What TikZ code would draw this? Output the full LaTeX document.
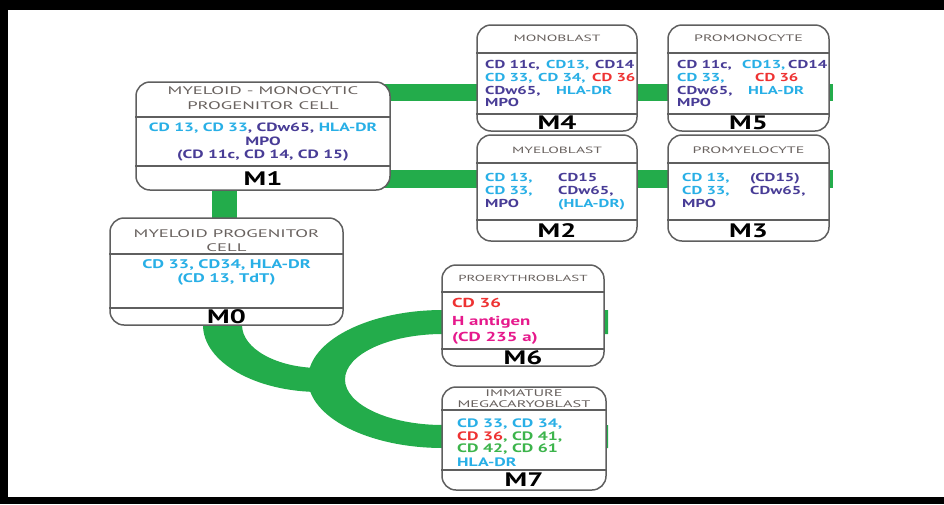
\documentclass[tikz,border=0pt]{standalone}
\usepackage{fontspec}
\setmainfont{PT Sans}[FakeStretch=1.45]
\newfontfamily\ttlfont{PT Sans}[FakeStretch=1.7]
\definecolor{grn}{RGB}{35,172,75}
\definecolor{cyT}{RGB}{40,175,230}
\definecolor{puT}{RGB}{72,60,150}
\definecolor{rdT}{RGB}{238,50,50}
\definecolor{mgT}{RGB}{230,25,140}
\definecolor{gnT}{RGB}{60,180,75}
\definecolor{ttl}{RGB}{105,98,95}
\definecolor{brd}{RGB}{95,95,95}
\newcommand{\Cy}[1]{\textcolor{cyT}{#1}}
\newcommand{\Pu}[1]{\textcolor{puT}{#1}}
\newcommand{\Rd}[1]{\textcolor{rdT}{#1}}
\newcommand{\Mg}[1]{\textcolor{mgT}{#1}}
\newcommand{\Gn}[1]{\textcolor{gnT}{#1}}
\newcommand{\Wb}[2]{\makebox[#1pt][l]{#2}}
\newcommand{\Fs}[1]{\fontsize{#1}{#1}\selectfont}
\begin{document}
\begin{tikzpicture}[x=1pt,y=-1pt,
 cellbox/.style={draw=brd, line width=1.5pt, rounded corners=14pt, fill=white, inner sep=0},
 divider/.style={draw=brd, line width=1.3pt},
 band/.style={draw=grn, line width=17pt},
 ttlbig/.style={text=ttl, font=\ttlfont\fontsize{11}{15}\selectfont, align=center, inner sep=0},
 ttlsm/.style={text=ttl, align=center, inner sep=0},
 bodyt/.style={font=\bfseries\Fs{11.5}, anchor=base west, inner sep=0},
 bodyc/.style={font=\bfseries\Fs{12}, anchor=base, inner sep=0},
 lbl/.style={font=\bfseries\Fs{19.5}, inner sep=0}]
\useasboundingbox (0,0) rectangle (944,504);
% frame
\fill[black] (0,0) rectangle (944,10);
\fill[black] (0,0) rectangle (8,504);
\fill[black] (0,497) rectangle (944,504);
% green bands
\coordinate (ua) at (380,92.5); \coordinate (ub) at (833,92.5);
\coordinate (la) at (380,179); \coordinate (lb) at (833,179);
\coordinate (va) at (224.5,180); \coordinate (vb) at (224.5,230);
\draw[band] (ua) -- (ub);
\draw[band, line width=18pt] (la) -- (lb);
\draw[band, line width=25pt] (va) -- (vb);
\fill[grn] (608,310) -- (443,310) arc[start angle=270, end angle=90, x radius=135, y radius=69]
  -- (608,448) -- (608,425) -- (443,425) arc[start angle=90, end angle=270, x radius=98, y radius=45.5]
  -- (443,334) -- (608,334) -- cycle;
\fill[grn] (203,318) -- (203,325) arc[start angle=180, end angle=90, x radius=117, y radius=67]
  -- (335,392) -- (335,368) -- (320,368) arc[start angle=90, end angle=180, x radius=78, y radius=43]
  -- (242,318) -- cycle;
% boxes
\node[cellbox, minimum width=254pt, minimum height=108pt] (b1) at (263,136) {};
\node[cellbox, minimum width=160pt, minimum height=106pt] (b4) at (557,78) {};
\node[cellbox, minimum width=161pt, minimum height=106pt] (b5) at (748.5,78) {};
\node[cellbox, minimum width=160pt, minimum height=106pt] (b2) at (557,188) {};
\node[cellbox, minimum width=161pt, minimum height=106pt] (b3) at (748.5,188) {};
\node[cellbox, minimum width=233pt, minimum height=107pt] (b0) at (226.5,271.5) {};
\node[cellbox, minimum width=162pt, minimum height=101pt] (b6) at (523,315.5) {};
\node[cellbox, minimum width=164pt, minimum height=103pt] (b7) at (524,438.5) {};
% dividers
\foreach \b/\ya/\yb in {b1/117/166, b4/53/114, b5/53/114, b2/163/220, b3/163/220, b0/254/308, b6/292/349, b7/410/470}{
  \draw[divider] (\b.west |- 0,\ya) -- (\b.east |- 0,\ya);
  \draw[divider] (\b.west |- 0,\yb) -- (\b.east |- 0,\yb);
}
% titles
\node[ttlbig] (t1) at (263,98) {MYELOID - MONOCYTIC\\PROGENITOR CELL};
\node[ttlbig, font=\ttlfont\fontsize{11}{13.5}\selectfont] (t0) at (226.5,240.5) {MYELOID PROGENITOR\\CELL};
\node[ttlsm, font=\ttlfont\Fs{9.1}] (t4) at (557,38) {MONOBLAST};
\node[ttlsm, font=\ttlfont\Fs{9.4}] (t5) at (748.5,38) {PROMONOCYTE};
\node[ttlsm, font=\ttlfont\Fs{9.1}] (t2) at (557,150) {MYELOBLAST};
\node[ttlsm, font=\ttlfont\Fs{9.4}] (t3) at (748.5,150) {PROMYELOCYTE};
\node[ttlsm, font=\ttlfont\Fs{8.8}] (t6) at (523,278) {PROERYTHROBLAST};
\node[ttlsm, font=\ttlfont\fontsize{9.6}{10.8}\selectfont] (t7) at (524,398.5) {IMMATURE\\MEGACARYOBLAST};
% M1 body
\node[bodyc] (c1a) at (263,131) {\Cy{CD 13, CD 33}\Pu{, CDw65, }\Cy{HLA-DR}};
\node[bodyc] (c1b) at (263,145) {\Pu{MPO}};
\node[bodyc] (c1c) at (263,158) {\Pu{(CD 11c, CD 14, CD 15)}};
% M4 body
\node[bodyt] (c4a) at (485,68) {\Wb{61}{\Pu{CD 11c,}}\Wb{49}{\Cy{CD13,}}\Pu{CD14}};
\node[bodyt] (c4b) at (485,81) {\Wb{53}{\Cy{CD 33,}}\Wb{54}{\Cy{CD 34,}}\Rd{CD 36}};
\node[bodyt] (c4c) at (485,94) {\Wb{71}{\Pu{CDw65,}}\Cy{HLA-DR}};
\node[bodyt] (c4d) at (485,106) {\Pu{MPO}};
% M5 body
\node[bodyt] (c5a) at (677,68) {\Wb{65}{\Pu{CD 11c,}}\Wb{46}{\Cy{CD13,}}\Pu{CD14}};
\node[bodyt] (c5b) at (677,81) {\Wb{78}{\Cy{CD 33,}}\Rd{CD 36}};
\node[bodyt] (c5c) at (677,94) {\Wb{71}{\Pu{CDw65,}}\Cy{HLA-DR}};
\node[bodyt] (c5d) at (677,106) {\Pu{MPO}};
% M2 body
\node[bodyt] (c2a) at (485,181) {\Wb{73}{\Cy{CD 13,}}\Pu{CD15}};
\node[bodyt] (c2b) at (485,194) {\Wb{73}{\Cy{CD 33,}}\Pu{CDw65,}};
\node[bodyt] (c2c) at (485,207) {\Wb{73}{\Pu{MPO}}\Cy{(HLA-DR)}};
% M3 body
\node[bodyt] (c3a) at (682,181) {\Wb{68}{\Cy{CD 13,}}\Pu{(CD15)}};
\node[bodyt] (c3b) at (682,194) {\Wb{68}{\Cy{CD 33,}}\Pu{CDw65,}};
\node[bodyt] (c3c) at (682,207) {\Pu{MPO}};
% M0 body
\node[bodyc, font=\bfseries\Fs{12.5}] (c0a) at (226.5,268) {\Cy{CD 33, CD34, HLA-DR}};
\node[bodyc, font=\bfseries\Fs{12.5}] (c0b) at (226.5,282) {\Cy{(CD 13, TdT)}};
% M6 body
\node[bodyt, font=\bfseries\Fs{13}] (c6a) at (452,307.5) {\Rd{CD 36}};
\node[bodyt, font=\bfseries\Fs{13}] (c6b) at (452,325) {\Mg{H antigen}};
\node[bodyt, font=\bfseries\Fs{13}] (c6c) at (452,341.5) {\Mg{(CD 235 a)}};
% M7 body
\node[bodyt, font=\bfseries\Fs{12.2}] (c7a) at (457,427) {\Cy{CD 33, CD 34,}};
\node[bodyt, font=\bfseries\Fs{12.2}] (c7b) at (457,440) {\Rd{CD 36}\Gn{, CD 41,}};
\node[bodyt, font=\bfseries\Fs{12.2}] (c7c) at (457,452.5) {\Gn{CD 42, CD 61}};
\node[bodyt, font=\bfseries\Fs{12.2}] (c7d) at (457,466) {\Cy{HLA-DR}};
% labels
\node[lbl] (l1) at (263,178.5) {M1};
\node[lbl] (l4) at (557,122.5) {M4};
\node[lbl] (l5) at (748.5,122.5) {M5};
\node[lbl] (l2) at (557,231) {M2};
\node[lbl] (l3) at (748.5,231) {M3};
\node[lbl] (l0) at (226.5,317) {M0};
\node[lbl] (l6) at (523,357.5) {M6};
\node[lbl] (l7) at (524,480) {M7};
\end{tikzpicture}
\end{document}
